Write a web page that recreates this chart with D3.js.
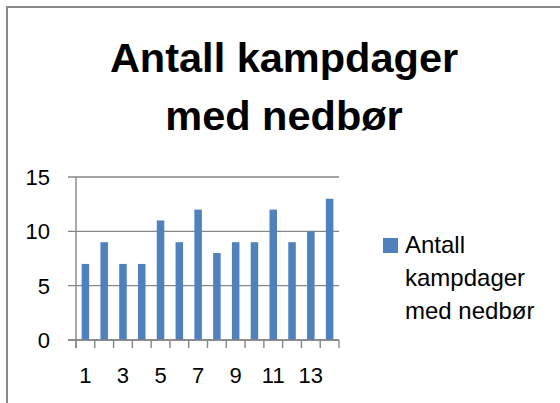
<!DOCTYPE html>
<html>
<head>
<meta charset="utf-8">
<script src="https://cdn.jsdelivr.net/npm/d3@7"></script>
<style>
  html, body { margin: 0; padding: 0; background: #fff; }
  svg { display: block; font-family: "Liberation Sans", Arial, sans-serif; }
</style>
</head>
<body>
<svg id="chart" width="560" height="403"></svg>
<script>
// data
const categories = ["1", "2", "3", "4", "5", "6", "7", "8", "9", "10", "11", "12", "13", "14"];
const values = [7, 9, 7, 7, 11, 9, 12, 8, 9, 9, 12, 9, 10, 13];
const yTicks = [0, 5, 10, 15];
const titleLines = ["Antall kampdager", "med nedbør"];
const legendLines = ["Antall", "kampdager", "med nedbør"];

const svg = d3.select("#chart");
const BAR = "#4F81BD";
const AXIS = "#868686";

// chart frame (right/bottom edges fall outside the view)
svg.append("rect")
  .attr("x", 7).attr("y", 7)
  .attr("width", 620).attr("height", 480)
  .attr("fill", "none")
  .attr("stroke", "#898989")
  .attr("stroke-width", 2);

// title
svg.append("g").selectAll("text")
  .data(titleLines)
  .join("text")
  .attr("x", 284)
  .attr("y", (d, i) => 72 + i * 58)
  .attr("text-anchor", "middle")
  .style("font-size", "41.5px")
  .style("font-weight", 700)
  .attr("fill", "#000")
  .text(d => d);

// scales
const plot = { left: 76, right: 339, top: 177, bottom: 340 };
const x = d3.scaleBand()
  .domain(categories)
  .range([plot.left, plot.right])
  .paddingInner(0.6)
  .paddingOuter(0.3);
const y = d3.scaleLinear().domain([0, 15]).range([plot.bottom, plot.top]);

// gridlines + y ticks
svg.append("g").selectAll("line")
  .data(yTicks)
  .join("line")
  .attr("x1", plot.left - 8).attr("x2", plot.right)
  .attr("y1", d => y(d)).attr("y2", d => y(d))
  .attr("stroke", AXIS)
  .attr("stroke-width", 1.4);

// y labels
svg.append("g").selectAll("text")
  .data(yTicks)
  .join("text")
  .attr("x", 50)
  .attr("y", d => y(d))
  .attr("dy", "0.36em")
  .attr("text-anchor", "end")
  .style("font-size", "22px")
  .attr("fill", "#000")
  .text(d => d);

// bars
svg.append("g").selectAll("rect")
  .data(values)
  .join("rect")
  .attr("x", (d, i) => x(categories[i]))
  .attr("width", x.bandwidth())
  .attr("y", d => y(d))
  .attr("height", d => y(0) - y(d))
  .attr("fill", BAR);

// y axis line
svg.append("line")
  .attr("x1", plot.left).attr("x2", plot.left)
  .attr("y1", plot.top).attr("y2", plot.bottom + 8)
  .attr("stroke", AXIS).attr("stroke-width", 1.4);

// x tick marks at category boundaries
const step = x.step();
const bounds = categories.map(c => x(c) - step * 0.3).concat([plot.right]);
svg.append("g").selectAll("line")
  .data(bounds)
  .join("line")
  .attr("x1", d => d).attr("x2", d => d)
  .attr("y1", plot.bottom).attr("y2", plot.bottom + 8)
  .attr("stroke", AXIS).attr("stroke-width", 1.4);

svg.append("line")
  .attr("x1", plot.left - 8).attr("x2", plot.right)
  .attr("y1", plot.bottom).attr("y2", plot.bottom)
  .attr("stroke", AXIS).attr("stroke-width", 1.4);

// x labels (every other)
svg.append("g").selectAll("text")
  .data(categories.filter((c, i) => i % 2 === 0))
  .join("text")
  .attr("x", d => x(d) + x.bandwidth() / 2)
  .attr("y", 383)
  .attr("text-anchor", "middle")
  .style("font-size", "22px")
  .attr("fill", "#000")
  .text(d => d);

// legend
const legend = svg.append("g");
legend.append("rect")
  .attr("x", 383).attr("y", 238)
  .attr("width", 15).attr("height", 15)
  .attr("fill", BAR);
legend.selectAll("text")
  .data(legendLines)
  .join("text")
  .attr("x", 405)
  .attr("y", (d, i) => 253 + i * 33)
  .style("font-size", "24px")
  .attr("fill", "#000")
  .text(d => d);
</script>
</body>
</html>
